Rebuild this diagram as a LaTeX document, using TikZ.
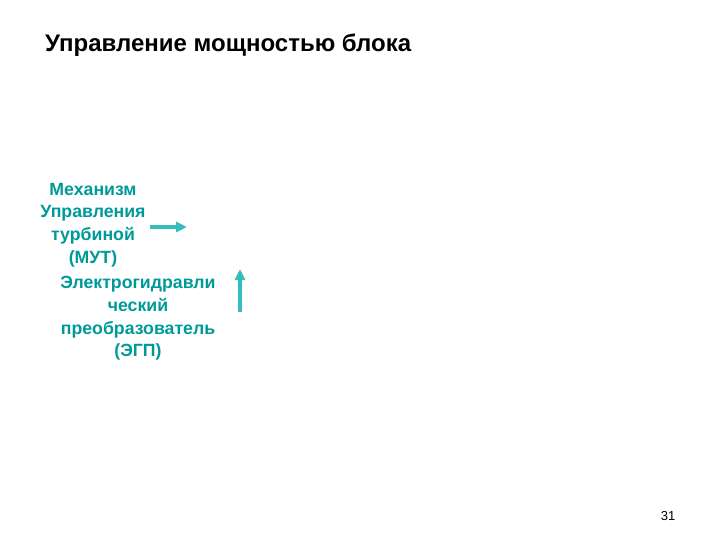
\documentclass[tikz,border=0pt]{standalone}
\usepackage{fontspec}
\setmainfont{Liberation Sans}
\usetikzlibrary{arrows.meta}
\definecolor{txtteal}{HTML}{009999}
\definecolor{arrteal}{HTML}{33BDBD}
\tikzset{
  lbl/.style={text=txtteal, align=center, font=\bfseries\fontsize{17.7}{22.7}\selectfont, inner sep=0pt},
  arr/.style={draw=arrteal, line width=3.5pt, -{Triangle[length=11pt,width=10pt]}}
}
\begin{document}
\begin{tikzpicture}[x=1pt,y=-1pt]
\useasboundingbox (0,0) rectangle (720,540);
\node[anchor=west, font=\bfseries\fontsize{24}{28}\selectfont, inner sep=0pt] (title) at (45,45) {Управление мощностью блока};
\node[lbl] (mut) at (93,225) {Механизм\\Управления\\турбиной\\(МУТ)};
\node[lbl] (egp) at (138,318.5) {Электрогидравли\\ческий\\преобразователь\\(ЭГП)};
\coordinate (a1s) at (150,227);
\coordinate (a1e) at (187,227);
\coordinate (a2s) at (240,312);
\coordinate (a2e) at (240,269);
\draw[arr] (a1s) -- (a1e);
\draw[arr] (a2s) -- (a2e);
\node[font=\fontsize{13}{15}\selectfont, inner sep=0pt] (num) at (668,516) {31};
\end{tikzpicture}
\end{document}
